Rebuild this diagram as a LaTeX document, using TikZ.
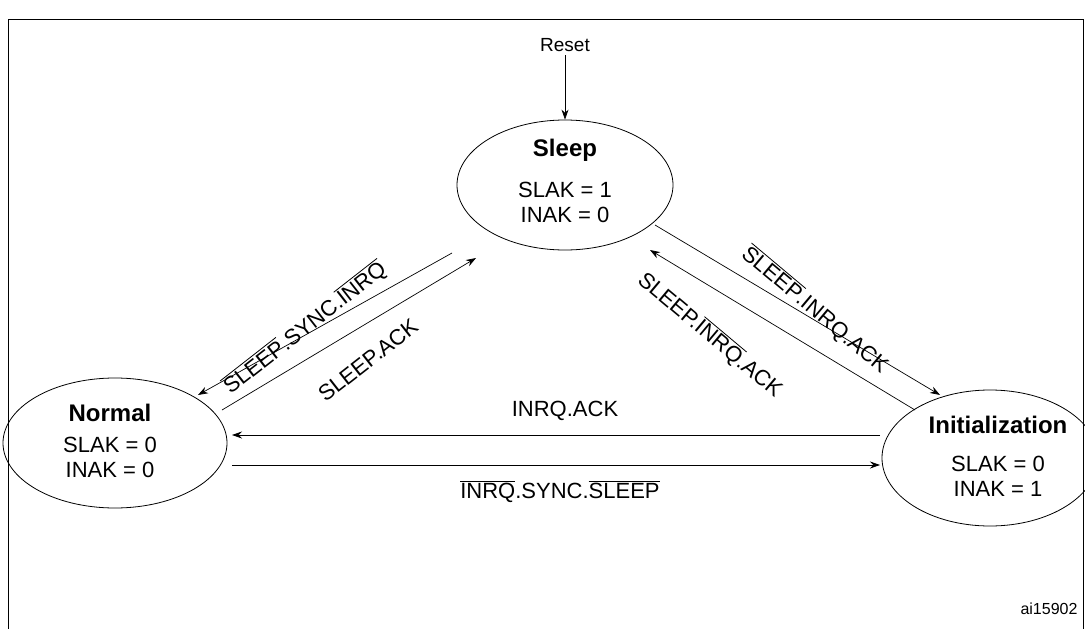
\documentclass[tikz,border=0pt]{standalone}
\usepackage{fontspec}
\setmainfont{Liberation Sans}
\usetikzlibrary{shapes.geometric,arrows.meta}
\newcommand\olb[1]{\leavevmode\vbox{\hrule height 0.8pt\kern1.5pt\hbox{#1}}}
\begin{document}
\begin{tikzpicture}[x=1pt,y=-1pt,
  st/.style={draw,ellipse,line width=0.8pt,align=center,inner sep=0pt},
  arr/.style={-{Stealth[length=10pt,width=7pt]},line width=0.7pt},
  lbl/.style={font=\fontsize{22}{25}\selectfont,inner sep=1pt},
  ttl/.style={font=\fontsize{24}{27}\selectfont\bfseries}]
\useasboundingbox (0,0) rectangle (1085,629);
\draw[line width=0.8pt] (8,19) -- (1083,19) -- (1083,640) (8,640) -- (8,19);
\node[st,minimum width=216pt,minimum height=130pt] (s) at (565,185) {};
\node[ttl] at (565,150) {Sleep};
\node[lbl,align=center] at (565,202) {SLAK = 1\\INAK = 0};
\node[st,minimum width=224pt,minimum height=130pt] (n) at (115,443) {};
\node[ttl] at (110,413) {Normal};
\node[lbl,align=center] at (110,457) {SLAK = 0\\INAK = 0};
\node[st,minimum width=216pt,minimum height=136pt] (i) at (990,458) {};
\node[ttl] at (998,425) {Initialization};
\node[lbl,align=center] at (998,476) {SLAK = 0\\INAK = 1};
\node[font=\fontsize{19}{22}\selectfont] (r) at (565,45) {Reset};
\draw[arr] (r.south) -- (s.north);
\coordinate (a1) at (452,253); \coordinate (a2) at (198,395);
\draw[arr] (a1) -- (a2);
\coordinate (b1) at (222,410); \coordinate (b2) at (476,258);
\draw[arr] (b1) -- (b2);
\coordinate (c1) at (655,225); \coordinate (c2) at (940,395);
\draw[arr] (c1) -- (c2);
\coordinate (d1) at (915,410); \coordinate (d2) at (650,250);
\draw[arr] (d1) -- (d2);
\coordinate (e1) at (880,435); \coordinate (e2) at (232,435);
\draw[arr] (e1) -- (e2);
\coordinate (f1) at (232,465); \coordinate (f2) at (880,465);
\draw[arr] (f1) -- (f2);
\node[lbl,rotate=38] at (305,328) {\olb{SLEEP}.SYNC.\olb{INRQ}};
\node[lbl,rotate=38] at (368,360) {SLEEP.ACK};
\node[lbl,rotate=-40] at (815,310) {\olb{SLEEP}.INRQ.ACK};
\node[lbl,rotate=-40] at (710,335) {SLEEP.\olb{INRQ}.ACK};
\node[lbl] at (565,411) {INRQ.ACK};
\node[lbl] at (560,492) {\olb{INRQ}.SYNC.\olb{SLEEP}};
\node[font=\fontsize{16}{18}\selectfont] at (1049,609) {ai15902};
\end{tikzpicture}
\end{document}
